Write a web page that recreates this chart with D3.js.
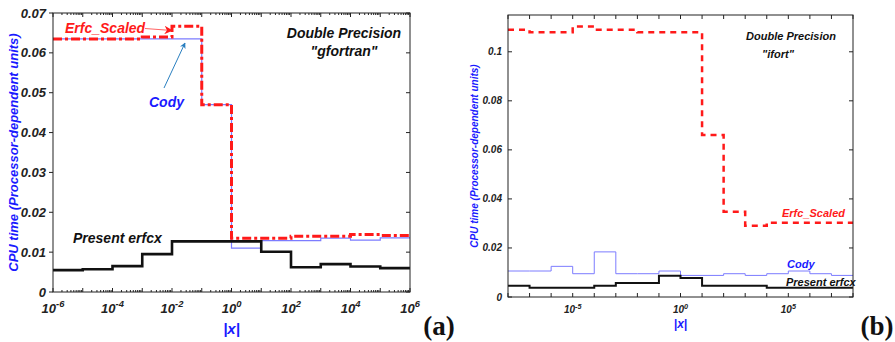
<!DOCTYPE html>
<html><head><meta charset="utf-8">
<script src="https://cdn.jsdelivr.net/npm/d3@7/dist/d3.min.js"></script>
<style>body{margin:0;background:#fff}svg{display:block}</style>
</head><body>
<svg id="c" width="895" height="342"></svg>
<script>
// ---- Panel (a): gfortran ----
const aEdgesExp = [-6,-5,-4,-3,-2,-1,0,1,2,3,4,5,6];
const aErfcScaled = [0.0635,0.0635,0.0635,0.064,0.0667,0.047,0.0135,0.0135,0.014,0.014,0.0144,0.0142];
const aCody       = [0.0635,0.0635,0.0635,0.0635,0.0635,0.047,0.011,0.0129,0.0129,0.0135,0.013,0.0136];
const aPresent    = [0.0055,0.0057,0.0065,0.0095,0.0127,0.0127,0.0127,0.0101,0.0062,0.007,0.0064,0.006];
const aYTicks = [0,0.01,0.02,0.03,0.04,0.05,0.06,0.07];
const aYTickLabels = ["0","0.01","0.02","0.03","0.04","0.05","0.06","0.07"];
const aXTickExp = [-6,-4,-2,0,2,4,6];

// ---- Panel (b): ifort ----
const bEdgesExp = [-8,-7,-6,-5,-4,-3,-2,-1,0,1,2,3,4,5,6,7,8];
const bErfcScaled = [0.109,0.108,0.108,0.1103,0.109,0.109,0.108,0.108,0.108,0.0661,0.0348,0.0291,0.0303,0.0303,0.0303,0.0303];
const bCody       = [0.0106,0.0106,0.0125,0.0095,0.0184,0.0095,0.0095,0.0106,0.0088,0.0088,0.0095,0.0088,0.0095,0.0106,0.0095,0.0088];
const bPresent    = [0.0046,0.0038,0.0038,0.0038,0.0046,0.0057,0.0057,0.0087,0.0077,0.0046,0.0046,0.0046,0.0038,0.0038,0.0038,0.0038];
const bYTicks = [0,0.02,0.04,0.06,0.08,0.1];
const bYTickLabels = ["0","0.02","0.04","0.06","0.08","0.1"];
const bXTickExp = [-5,0,5];

const svg = d3.select("#c");
const FONT = "'Liberation Sans', Arial, sans-serif";
const BLUE = "#1a1aff", CODY = "#7c7cff", RED = "#ff1a1a";

function stepData(edgesExp, vals){
  const pts = vals.map((v,i)=>({x:Math.pow(10,edgesExp[i]), y:v}));
  pts.push({x:Math.pow(10,edgesExp[edgesExp.length-1]), y:vals[vals.length-1]});
  return pts;
}

function panel(cfg){
  const g = svg.append("g");
  const x = d3.scaleLog().domain([Math.pow(10,cfg.edges[0]), Math.pow(10,cfg.edges[cfg.edges.length-1])]).range([cfg.x0,cfg.x1]);
  const y = d3.scaleLinear().domain([0,cfg.ymax]).range([cfg.y1,cfg.y0]);
  const line = d3.line().x(d=>x(d.x)).y(d=>y(d.y)).curve(d3.curveStepAfter);

  const tk = g.append("g").attr("stroke","#222").attr("stroke-width",1);
  for(let e=cfg.edges[0]; e<=cfg.edges[cfg.edges.length-1]; e++){
    const X = x(Math.pow(10,e));
    tk.append("line").attr("x1",X).attr("x2",X).attr("y1",cfg.y1).attr("y2",cfg.y1-cfg.majLen);
    tk.append("line").attr("x1",X).attr("x2",X).attr("y1",cfg.y0).attr("y2",cfg.y0+cfg.majLen);
    if(cfg.minor && e<cfg.edges[cfg.edges.length-1]){
      for(let m=2;m<=9;m++){
        const Xm = x(m*Math.pow(10,e));
        tk.append("line").attr("x1",Xm).attr("x2",Xm).attr("y1",cfg.y1).attr("y2",cfg.y1-2);
        tk.append("line").attr("x1",Xm).attr("x2",Xm).attr("y1",cfg.y0).attr("y2",cfg.y0+2);
      }
    }
  }
  cfg.yTicks.forEach((t,i)=>{
    const Y = y(t);
    tk.append("line").attr("x1",cfg.x0).attr("x2",cfg.x0+cfg.yTickDir*4).attr("y1",Y).attr("y2",Y);
    tk.append("line").attr("x1",cfg.x1).attr("x2",cfg.x1-4).attr("y1",Y).attr("y2",Y);
    g.append("text").attr("x",cfg.x0-cfg.ylabGap).attr("y",Y).attr("dy","0.35em")
      .attr("text-anchor","end").attr("font-family",FONT).attr("font-weight","bold").attr("font-style","italic")
      .attr("font-size",cfg.tickFs).attr("fill","#222").text(cfg.yTickLabels[i]);
  });
  cfg.xTicks.forEach(e=>{
    const t = g.append("text").attr("x",x(Math.pow(10,e))).attr("y",cfg.xlabY)
      .attr("text-anchor","middle").attr("font-family",FONT).attr("font-weight","bold").attr("font-style","italic")
      .attr("font-size",cfg.tickFs).attr("fill","#222");
    t.append("tspan").text("10");
    t.append("tspan").attr("dy",-cfg.tickFs*0.45).attr("font-size",cfg.tickFs*0.72).text(String(e));
  });

  g.append("path").datum(stepData(cfg.edges,cfg.cody)).attr("d",line).attr("fill","none")
    .attr("stroke",CODY).attr("stroke-width",cfg.codyW);
  g.append("path").datum(stepData(cfg.edges,cfg.erfc)).attr("d",line).attr("fill","none")
    .attr("stroke",RED).attr("stroke-width",cfg.redW).attr("stroke-dasharray",cfg.redDash);
  g.append("path").datum(stepData(cfg.edges,cfg.present)).attr("d",line).attr("fill","none")
    .attr("stroke","#111").attr("stroke-width",cfg.blackW);

  g.append("rect").attr("x",cfg.x0).attr("y",cfg.y0).attr("width",cfg.x1-cfg.x0).attr("height",cfg.y1-cfg.y0)
    .attr("fill","none").attr("stroke","#222").attr("stroke-width",1);

  g.append("text").attr("transform",`translate(${cfg.ylabX},${(cfg.y0+cfg.y1)/2}) rotate(-90)`)
    .attr("text-anchor","middle").attr("font-family",FONT).attr("font-weight","bold").attr("font-style","italic")
    .attr("font-size",cfg.labFs).attr("fill",BLUE).text("CPU time (Processor-dependent units)");
  g.append("text").attr("x",x(1)).attr("y",cfg.xTitleY).attr("text-anchor","middle")
    .attr("font-family",FONT).attr("font-weight","bold").attr("font-style","italic")
    .attr("font-size",cfg.labFs+2).attr("fill",BLUE).text("|x|");
  return {g,x,y};
}

function txt(g,X,Y,s,fs,col,anchor){
  g.append("text").attr("x",X).attr("y",Y).attr("text-anchor",anchor||"start")
    .attr("font-family",FONT).attr("font-weight","bold").attr("font-style","italic")
    .attr("font-size",fs).attr("fill",col).text(s);
}

const defs = svg.append("defs");
defs.append("marker").attr("id","arrR").attr("viewBox","0 0 10 10").attr("refX",9).attr("refY",5)
  .attr("markerWidth",7).attr("markerHeight",7).attr("orient","auto")
  .append("path").attr("d","M0,0 L10,5 L0,10 L3,5 z").attr("fill",RED);
defs.append("marker").attr("id","arrB").attr("viewBox","0 0 10 10").attr("refX",9).attr("refY",5)
  .attr("markerWidth",6).attr("markerHeight",6).attr("orient","auto")
  .append("path").attr("d","M0,0 L10,5 L0,10 L3,5 z").attr("fill","#2a7fc0");

const A = panel({edges:aEdgesExp, erfc:aErfcScaled, cody:aCody, present:aPresent,
  ymax:0.07, yTicks:aYTicks, yTickLabels:aYTickLabels, xTicks:aXTickExp,
  x0:53, x1:410, y0:13, y1:292, majLen:4, minor:true, tickFs:13, ylabGap:7, xlabY:313, yTickDir:-1,
  ylabX:18, labFs:13, xTitleY:334, codyW:1.2, redW:3, redDash:"9,3,3,3", blackW:2.6});
txt(A.g,65,33,"Erfc_Scaled",14,RED);
A.g.append("line").attr("x1",145).attr("y1",28.5).attr("x2",172).attr("y2",30.5)
  .attr("stroke","#ff6666").attr("stroke-width",1.2).attr("marker-end","url(#arrR)");
txt(A.g,149,107,"Cody",14,BLUE);
A.g.append("line").attr("x1",164).attr("y1",88).attr("x2",185).attr("y2",43)
  .attr("stroke","#2a7fc0").attr("stroke-width",1).attr("marker-end","url(#arrB)");
txt(A.g,344,38,"Double Precision",14,"#111","middle");
txt(A.g,344,56,"\"gfortran\"",14,"#111","middle");
txt(A.g,73,243,"Present erfcx",14,"#111");

const B = panel({edges:bEdgesExp, erfc:bErfcScaled, cody:bCody, present:bPresent,
  ymax:0.115, yTicks:bYTicks, yTickLabels:bYTickLabels, xTicks:bXTickExp,
  x0:508, x1:853, y0:15, y1:297, majLen:4, minor:false, tickFs:10, ylabGap:6, xlabY:313, yTickDir:1,
  ylabX:478, labFs:10, xTitleY:328, codyW:1, redW:2.5, redDash:"6,5", blackW:2});
txt(B.g,791,40,"Double Precision",11,"#111","middle");
txt(B.g,778,58,"\"ifort\"",11,"#111","middle");
txt(B.g,782,217,"Erfc_Scaled",11,RED);
txt(B.g,787,268,"Cody",11,BLUE);
txt(B.g,786,286,"Present erfcx",11,"#111");

svg.append("text").attr("x",439).attr("y",335).attr("text-anchor","middle")
  .attr("font-family","'Liberation Serif','DejaVu Serif',serif").attr("font-weight","bold")
  .attr("font-size",27).attr("fill","#111").text("(a)");
svg.append("text").attr("x",877).attr("y",335).attr("text-anchor","middle")
  .attr("font-family","'Liberation Serif','DejaVu Serif',serif").attr("font-weight","bold")
  .attr("font-size",27).attr("fill","#111").text("(b)");
</script>
</body></html>
